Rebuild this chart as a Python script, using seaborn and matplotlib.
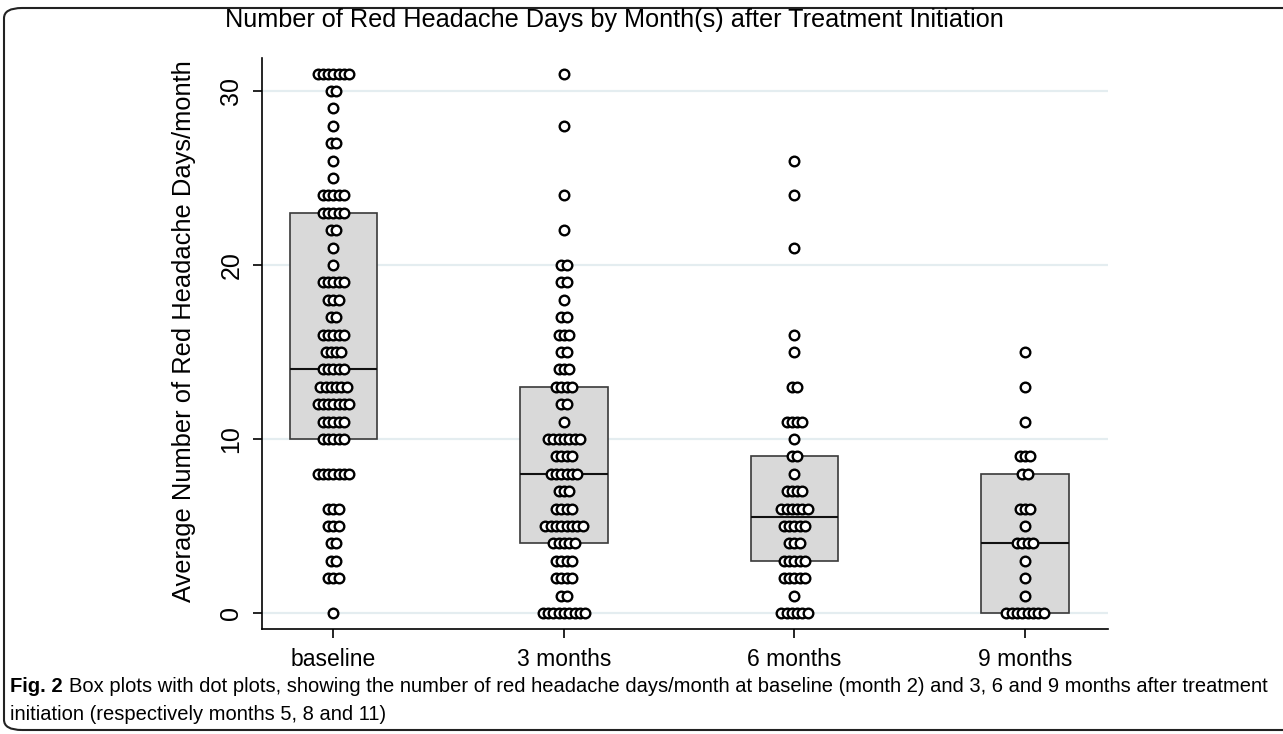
import numpy as np
import pandas as pd
import matplotlib
matplotlib.use("Agg")
import matplotlib.pyplot as plt
import seaborn as sns
from matplotlib.patches import FancyBboxPatch

# ---- data (value, number of patients at that value) ----
categories = ["baseline", "3 months", "6 months", "9 months"]

baseline_values = [31, 30, 29, 28, 27, 26, 25, 24, 23, 22, 21, 20, 19, 18, 17, 16, 15, 14, 13, 12, 11, 10, 8, 6, 5, 4, 3, 2, 0]
baseline_counts = [7, 2, 1, 1, 2, 1, 1, 5, 5, 2, 1, 1, 5, 3, 2, 5, 4, 5, 6, 7, 5, 5, 7, 3, 3, 2, 2, 3, 1]

m3_values = [31, 28, 24, 22, 20, 19, 18, 17, 16, 15, 14, 13, 12, 11, 10, 9, 8, 7, 6, 5, 4, 3, 2, 1, 0]
m3_counts = [1, 1, 1, 1, 2, 2, 1, 2, 3, 2, 3, 4, 2, 1, 7, 4, 6, 3, 4, 8, 5, 4, 4, 2, 9]

m6_values = [26, 24, 21, 16, 15, 13, 11, 10, 9, 8, 7, 6, 5, 4, 3, 2, 1, 0]
m6_counts = [1, 1, 1, 1, 1, 2, 4, 1, 2, 1, 4, 6, 5, 3, 5, 5, 1, 6]

m9_values = [15, 13, 11, 9, 8, 6, 5, 4, 3, 2, 1, 0]
m9_counts = [1, 1, 1, 3, 2, 3, 1, 4, 1, 1, 1, 8]

y_ticks = [0, 10, 20, 30]
title = "Number of Red Headache Days by Month(s) after Treatment Initiation"
ylabel = "Average Number of Red Headache Days/month"
cap_bold = "Fig. 2"
cap_line1 = "Box plots with dot plots, showing the number of red headache days/month at baseline (month 2) and 3, 6 and 9 months after treatment"
cap_line2 = "initiation (respectively months 5, 8 and 11)"

groups = [(baseline_values, baseline_counts), (m3_values, m3_counts),
          (m6_values, m6_counts), (m9_values, m9_counts)]

rows = []
for gi, (vals, cnts) in enumerate(groups):
    for v, c in zip(vals, cnts):
        for k in range(c):
            rows.append({"group": categories[gi], "gpos": gi, "days": v, "rank": k, "n": c})
df = pd.DataFrame(rows)

# dot-plot stacking: overlapping circles centred on the category
step = 0.023
df["xdot"] = df["gpos"] + (df["rank"] - (df["n"] - 1) / 2.0) * step
df = df.sort_values(["gpos", "days", "rank"])

sns.set_theme(style="white")
plt.rcParams["font.family"] = ["Liberation Sans", "DejaVu Sans"]
plt.rcParams["text.color"] = "black"
plt.rcParams["axes.labelcolor"] = "black"
plt.rcParams["xtick.color"] = "black"
plt.rcParams["ytick.color"] = "black"

W, H = 1283, 734
fig = plt.figure(figsize=(W / 100, H / 100), dpi=100)
ax = fig.add_axes([262 / W, 1 - 629 / H, (1108 - 262) / W, (629 - 58) / H])

for t in y_ticks:
    ax.axhline(t, color="#e4edf0", lw=1.6, zorder=0)

sns.boxplot(data=df, x="group", y="days", order=categories, ax=ax,
            whis=0, showfliers=False, showcaps=False, width=0.38,
            color="#d9d9d9", linecolor="#3a3a3a", linewidth=1.2,
            saturation=1, medianprops={"color": "#111111", "linewidth": 1.5},
            zorder=2)

ax.scatter(df["xdot"], df["days"], s=48, facecolors="white",
           edgecolors="black", linewidths=1.7, zorder=3)

ax.set_xlim(-0.31, 3.36)
ax.set_ylim(-0.92, 31.9)
ax.set_yticks(y_ticks)
ax.set_yticklabels([str(t) for t in y_ticks], rotation=90, va="center", fontsize=18)
ax.set_xticks(range(len(categories)))
ax.set_xticklabels(categories, fontsize=16.5)
ax.set_xlabel("")
ax.set_ylabel(ylabel, fontsize=18.4)
ax.yaxis.set_label_coords((196 - 262) / (1108 - 262), (629 - 331) / (629 - 58))

for s in ["top", "right"]:
    ax.spines[s].set_visible(False)
for s in ["left", "bottom"]:
    ax.spines[s].set_color("black")
    ax.spines[s].set_linewidth(1.2)
ax.tick_params(axis="both", which="major", direction="out", length=6.5, width=1.2,
               color="black", left=True, bottom=True, pad=7)

fig.text(614 / W, 1 - 20 / H, title, ha="center", va="center", fontsize=18.2)

# caption
cap_size = 14
tb = fig.text(10 / W, 1 - 686 / H, cap_bold, fontsize=cap_size, fontweight="bold",
              va="center", ha="left")
fig.canvas.draw()
r = fig.canvas.get_renderer()
bb = tb.get_window_extent(r)
t1 = fig.text((bb.x1 + 6) / W, 1 - 686 / H, cap_line1, fontsize=cap_size,
              va="center", ha="left")
fig.canvas.draw()
b1 = t1.get_window_extent(r)
scale = (1268 - b1.x0) / b1.width
t1.set_fontsize(cap_size * scale)
tb.set_fontsize(cap_size * scale)
fig.canvas.draw()
bb = tb.get_window_extent(r)
t1.set_x((bb.x1 + 6) / W)
fig.text(10 / W, 1 - 714 / H, cap_line2, fontsize=cap_size * scale,
         va="center", ha="left")

frame = FancyBboxPatch((4 / W, 4 / H), 1.05, (730 - 8) / H,
                       boxstyle="round,pad=0,rounding_size=0.014",
                       transform=fig.transFigure, fill=False,
                       edgecolor="#222222", lw=1.5, clip_on=False)
fig.patches.append(frame)

fig.savefig("out.png", dpi=100)
